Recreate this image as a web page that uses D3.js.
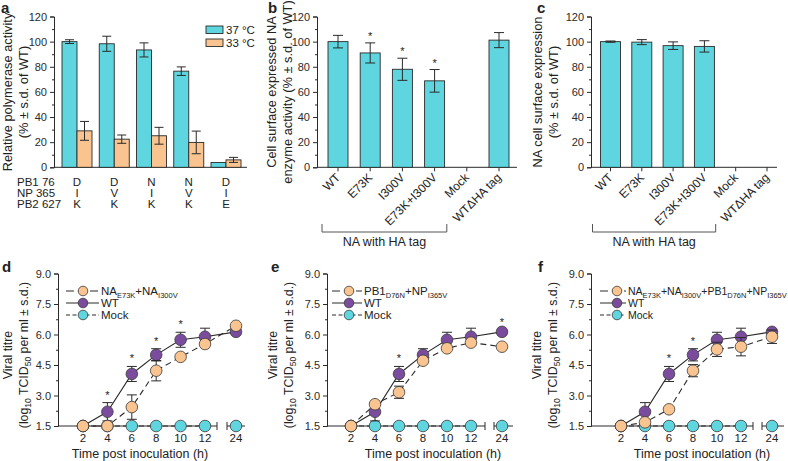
<!DOCTYPE html>
<html>
<head>
<meta charset="utf-8">
<script src="https://cdnjs.cloudflare.com/ajax/libs/d3/7.8.5/d3.min.js"></script>
<style>
  body { margin: 0; background: #fff; }
  svg { font-family: "Liberation Sans", Arial, sans-serif; fill: #222; }
  .tick text { font-size: 11px; }
</style>
</head>
<body>
<div id="chart"></div>
<script>
// ---- panel a ----
var groups = ['g1', 'g2', 'g3', 'g4', 'g5'];
var pb1Row = ['D', 'D', 'N', 'N', 'D'];
var npRow = ['I', 'V', 'I', 'V', 'I'];
var pb2Row = ['K', 'K', 'K', 'K', 'E'];
var act37 = [100, 98.3, 93.4, 76.5, 3.8];
var act37Err = [1.5, 6, 5.6, 3.4, 0];
var act33 = [29, 22.4, 25.1, 19.8, 5.9];
var act33Err = [7.5, 3.3, 6.7, 9, 2];

// ---- panels b, c ----
var naLabels = ['WT', 'E73K', 'I300V', 'E73K+I300V', 'Mock', 'WT\u0394HA tag'];
var enzVals = [100, 91, 78, 68.8, 0, 101.2];
var enzErr = [5, 8, 8.8, 9, 0, 6];
var enzStar = [0, 1, 1, 1, 0, 0];
var surfVals = [100, 99.6, 96.8, 96.2, 0, 0];
var surfErr = [0.5, 2, 3, 4.5, 0, 0];

// ---- panels d, e, f ----
var hours = [2, 4, 6, 8, 10, 12, 24];
var wtTitre = [1.5, 2.2, 4.06, 5.0, 5.74, 5.89, 6.13];
var wtErr = [0, 0.45, 0.37, 0.3, 0.37, 0.42, 0.1];
var mockTitre = [1.5, 1.5, 1.5, 1.5, 1.5, 1.5, 1.5];
var dTitre = [1.5, 1.5, 2.43, 4.22, 4.9, 5.53, 6.43];
var dErr = [0, 0, 0.6, 0.5, 0, 0, 0];
var dStars = [4, 6, 8, 10];
var eTitre = [1.5, 2.57, 3.16, 4.71, 5.32, 5.6, 5.4];
var eErr = [0, 0, 0.3, 0, 0, 0, 0];
var eStars = [6, 24];
var fTitre = [1.5, 1.68, 2.32, 4.22, 5.27, 5.4, 5.89];
var fErr = [0, 0, 0, 0.3, 0.35, 0.45, 0.33];
var fStars = [6, 8];
var titreTicks = [1.5, 3.0, 4.5, 6.0, 7.5, 9.0];

var cyan = '#5fd6df', peach = '#f9c48f', purple = '#7b4c9e', ink = '#2a2a2a';

var svg = d3.select('#chart').append('svg')
  .attr('width', 788).attr('height', 461)

function subText(sel, parts, big, small) {
  parts.forEach(function(p) {
    sel.append('tspan')
      .attr('font-size', p[1] ? small : big)
      .attr('dy', p[1] ? 3 : (p[2] ? -3 : 0))
      .text(p[0])
  })
}

function panelLetter(x, y, t) {
  svg.append('text').attr('x', x).attr('y', y)
    .attr('font-size', 15).attr('font-weight', 'bold').text(t)
}

function yAxis(g, y, x0, ticks, minor, fmt) {
  g.append('g')
    .attr('transform', 'translate(' + x0 + ',0)')
    .call(d3.axisLeft(y).tickValues(minor).tickSize(2).tickFormat(''))
    .call(function(s) { s.select('.domain').remove() })
  var ax = g.append('g')
    .attr('transform', 'translate(' + x0 + ',0)')
    .call(d3.axisLeft(y).tickValues(ticks).tickSize(4).tickPadding(3).tickFormat(fmt))
  ax.selectAll('path, line').attr('stroke', ink)
  ax.selectAll('text').attr('fill', ink)
  g.selectAll('line').attr('stroke', ink)
}

function errBar(g, x, yTop, yBot, w) {
  g.append('line').attr('x1', x).attr('x2', x).attr('y1', yTop).attr('y2', yBot)
    .attr('stroke', ink).attr('stroke-width', 1)
  g.append('line').attr('x1', x - w).attr('x2', x + w).attr('y1', yTop).attr('y2', yTop)
    .attr('stroke', ink).attr('stroke-width', 1)
  g.append('line').attr('x1', x - w).attr('x2', x + w).attr('y1', yBot).attr('y2', yBot)
    .attr('stroke', ink).attr('stroke-width', 1)
}

function yTitle(x, yc, lines, fs) {
  lines.forEach(function(l, i) {
    if (!l) return
    svg.append('text')
      .attr('transform', 'translate(' + (x + i * 16) + ',' + yc + ') rotate(-90)')
      .attr('text-anchor', 'middle').attr('font-size', fs || 12.8).text(l)
  })
}

// ===================== panel a =====================
var pctY = d3.scaleLinear().domain([0, 120]).range([167.3, 16.5])
var pctTicks = d3.range(0, 121, 20)
var pctMinor = d3.range(10, 120, 20)

var ga = svg.append('g')
var xa = d3.scalePoint().domain(groups).range([77, 226])
var barW = 15
yAxis(ga, pctY, 54, pctTicks, pctMinor, d3.format('d'))
ga.append('line').attr('x1', 54).attr('x2', 247).attr('y1', pctY(0)).attr('y2', pctY(0))
  .attr('stroke', ink)

groups.forEach(function(gk, i) {
  var cx = xa(gk)
  ga.append('rect').attr('x', cx - barW).attr('y', pctY(act37[i]))
    .attr('width', barW).attr('height', pctY(0) - pctY(act37[i]))
    .attr('fill', cyan).attr('stroke', ink).attr('stroke-width', 0.9)
  ga.append('rect').attr('x', cx).attr('y', pctY(act33[i]))
    .attr('width', barW).attr('height', pctY(0) - pctY(act33[i]))
    .attr('fill', peach).attr('stroke', ink).attr('stroke-width', 0.9)
  if (act37Err[i] > 0) errBar(ga, cx - barW / 2, pctY(act37[i] + act37Err[i]), pctY(act37[i] - act37Err[i]), 4.5)
  if (act33Err[i] > 0) errBar(ga, cx + barW / 2, pctY(act33[i] + act33Err[i]), pctY(act33[i] - act33Err[i]), 4.5)
})

var rowLabels = ['PB1 76', 'NP 365', 'PB2 627']
var rowVals = [pb1Row, npRow, pb2Row]
rowLabels.forEach(function(lab, r) {
  var yy = 186 + r * 11
  ga.append('text').attr('x', 17).attr('y', yy).attr('font-size', 11.5).text(lab)
  groups.forEach(function(gk, i) {
    ga.append('text').attr('x', xa(gk)).attr('y', yy).attr('text-anchor', 'middle')
      .attr('font-size', 11.5).text(rowVals[r][i])
  })
})

var legA = [['37 \u00b0C', cyan], ['33 \u00b0C', peach]]
legA.forEach(function(d, i) {
  ga.append('rect').attr('x', 206).attr('y', 26 + i * 13).attr('width', 17).attr('height', 7.5)
    .attr('fill', d[1]).attr('stroke', ink).attr('stroke-width', 0.9)
  ga.append('text').attr('x', 226).attr('y', 33.5 + i * 13).attr('font-size', 11.5).text(d[0])
})
panelLetter(1, 13, 'a')
yTitle(12, 92, ['Relative polymerase activity', '(% \u00b1 s.d. of WT)'])

// ===================== panels b, c =====================
function naPanel(axisX, xEnd, r0, r1, vals, errs, stars, bracketX) {
  var g = svg.append('g')
  var x = d3.scalePoint().domain(naLabels).range([r0, r1])
  var w = 20
  yAxis(g, pctY, axisX, pctTicks, pctMinor, d3.format('d'))
  g.append('line').attr('x1', axisX).attr('x2', xEnd).attr('y1', pctY(0)).attr('y2', pctY(0))
    .attr('stroke', ink)
  naLabels.forEach(function(lab, i) {
    var cx = x(lab)
    g.append('line').attr('x1', cx).attr('x2', cx).attr('y1', pctY(0)).attr('y2', pctY(0) + 4)
      .attr('stroke', ink)
    g.append('text').attr('transform', 'translate(' + (cx + 3) + ',' + (pctY(0) + 11) + ') rotate(-45)')
      .attr('text-anchor', 'end').attr('font-size', 12).text(lab)
    if (vals[i] <= 0) return
    g.append('rect').attr('x', cx - w / 2).attr('y', pctY(vals[i]))
      .attr('width', w).attr('height', pctY(0) - pctY(vals[i]))
      .attr('fill', cyan).attr('stroke', ink).attr('stroke-width', 0.9)
    errBar(g, cx, pctY(vals[i] + errs[i]), pctY(vals[i] - errs[i]), 5)
    if (stars && stars[i]) {
      g.append('text').attr('x', cx).attr('y', pctY(vals[i] + errs[i]) - 3)
        .attr('text-anchor', 'middle').attr('font-size', 11).text('*')
    }
  })
  // bracket under the HA-tagged constructs
  var bl = x(naLabels[0]) - bracketX, br = x(naLabels[4]) - 20
  g.append('path').attr('d', 'M' + bl + ',224 V232 H' + br + ' V224')
    .attr('fill', 'none').attr('stroke', '#555').attr('stroke-width', 1)
  g.append('text').attr('x', (bl + br) / 2).attr('y', 246).attr('text-anchor', 'middle')
    .attr('font-size', 12.5).text('NA with HA tag')
  return g
}
naPanel(317, 517, 338, 499, enzVals, enzErr, enzStar, 16)
panelLetter(268, 13, 'b')
yTitle(276, 92, ['Cell surface expressed NA', 'enzyme activity (% \u00b1 s.d. of WT)'])

naPanel(591, 777, 610.5, 767, surfVals, surfErr, null, 18)
panelLetter(537, 13, 'c')
yTitle(542, 92, ['NA cell surface expression', '(% \u00b1 s.d. of WT)'])

// ===================== panels d, e, f =====================
var tY = d3.scaleLinear().domain([1.5, 9]).range([426, 273.5])
var tMinor = [2.25, 3.75, 5.25, 6.75, 8.25]

function titrePanel(o) {
  var g = svg.append('g')
  var x = d3.scaleLinear().domain([2, 12, 24]).range(o.range)
  yAxis(g, tY, o.axisX, titreTicks, tMinor, d3.format('.1f'))
  var y0 = tY(1.5)
  // broken x axis
  g.append('line').attr('x1', o.axisX).attr('x2', o.brk[0]).attr('y1', y0).attr('y2', y0).attr('stroke', ink)
  g.append('line').attr('x1', o.brk[1]).attr('x2', o.xEnd).attr('y1', y0).attr('y2', y0).attr('stroke', ink)
  o.brk.forEach(function(bx) {
    g.append('line').attr('x1', bx).attr('x2', bx).attr('y1', y0 - 4).attr('y2', y0 + 4).attr('stroke', ink)
  })
  hours.forEach(function(h) {
    g.append('text').attr('x', x(h)).attr('y', 442).attr('text-anchor', 'middle')
      .attr('font-size', 11.5).text(h)
  })
  g.append('text').attr('x', o.titleX).attr('y', 458).attr('text-anchor', 'middle')
    .attr('font-size', 12.5).text('Time post inoculation (h)')

  var line = d3.line().x(function(d, i) { return x(hours[i]) }).y(function(d) { return tY(d) })
  var series = [
    { v: mockTitre, e: null, fill: cyan, dash: '5,3' },
    { v: wtTitre, e: wtErr, fill: purple, dash: null },
    { v: o.mut, e: o.mutErr, fill: peach, dash: '6,4' }
  ]
  series.forEach(function(s) {
    var pts = s.v
    if (s.v === mockTitre) {
      // mock line also follows the axis break
      g.append('path').attr('d', line(pts.slice(0, 6))).attr('fill', 'none')
        .attr('stroke', ink).attr('stroke-dasharray', s.dash)
    } else {
      g.append('path').attr('d', line(pts)).attr('fill', 'none').attr('stroke', ink)
        .attr('stroke-width', 1.1).attr('stroke-dasharray', s.dash)
    }
  })
  series.forEach(function(s) {
    s.v.forEach(function(v, i) {
      if (s.e && s.e[i] > 0) errBar(g, x(hours[i]), tY(v + s.e[i]), tY(v - s.e[i]), 5)
    })
    s.v.forEach(function(v, i) {
      g.append('circle').attr('cx', x(hours[i])).attr('cy', tY(v)).attr('r', 5.8)
        .attr('fill', s.fill).attr('stroke', '#3a3a3a').attr('stroke-width', 0.8)
    })
  })
  o.stars.forEach(function(h) {
    var i = hours.indexOf(h)
    g.append('text').attr('x', x(h)).attr('y', tY(wtTitre[i] + wtErr[i]) - 4)
      .attr('text-anchor', 'middle').attr('font-size', 11).text('*')
  })

  // legend
  var leg = [
    { fill: peach, dash: '8,4', lab: o.legend },
    { fill: purple, dash: null, lab: [['WT', 0]] },
    { fill: cyan, dash: '4,2.5', lab: [['Mock', 0]] }
  ]
  leg.forEach(function(d, i) {
    var ly = 291 + i * 12, cx = o.legX
    g.append('line').attr('x1', cx - 17).attr('x2', cx + o.textOff - 2).attr('y1', ly).attr('y2', ly)
      .attr('stroke', ink).attr('stroke-dasharray', d.dash)
    g.append('circle').attr('cx', cx).attr('cy', ly).attr('r', 4.8)
      .attr('fill', d.fill).attr('stroke', '#3a3a3a').attr('stroke-width', 0.8)
    var t = g.append('text').attr('x', cx + o.textOff).attr('y', ly + 4).attr('font-size', o.legFont)
    subText(t, d.lab.map(function(p, k) {
      var prevSub = k > 0 && d.lab[k - 1][1]
      return [p[0], p[1], prevSub]
    }), o.legFont, 7.5)
  })
  yTitle(o.titleY, 355, ['Viral titre'], 12.3)
  var t2 = svg.append('text')
    .attr('transform', 'translate(' + (o.titleY + 16) + ',355) rotate(-90)')
    .attr('text-anchor', 'middle').attr('font-size', 12.3)
  subText(t2, [['(log', 0], ['10', 1], [' TCID', 0, 1], ['50', 1], [' per ml \u00b1 s.d.)', 0, 1]], 12.3, 8.5)
  return g
}

titrePanel({ axisX: 58, range: [83, 205, 236], brk: [217, 227], xEnd: 245, titleX: 140,
  mut: dTitre, mutErr: dErr, stars: dStars, legX: 83, textOff: 18, legFont: 11.5, titleY: 11.5,
  legend: [['NA', 0], ['E73K', 1], ['+NA', 0], ['I300V', 1]] })
panelLetter(2, 272, 'd')

titrePanel({ axisX: 327, range: [351, 471, 502], brk: [485, 494], xEnd: 513, titleX: 433,
  mut: eTitre, mutErr: eErr, stars: eStars, legX: 349, textOff: 15, legFont: 11.5, titleY: 277,
  legend: [['PB1', 0], ['D76N', 1], ['+NP', 0], ['I365V', 1]] })
panelLetter(271, 272, 'e')

titrePanel({ axisX: 591, range: [621, 741, 772], brk: [753, 762], xEnd: 784, titleX: 702,
  mut: fTitre, mutErr: fErr, stars: fStars, legX: 617, textOff: 11, legFont: 10.5, titleY: 541,
  legend: [['NA', 0], ['E73K', 1], ['+NA', 0], ['I300V', 1], ['+PB1', 0], ['D76N', 1], ['+NP', 0], ['I365V', 1]] })
panelLetter(538, 272, 'f')
</script>
</body>
</html>
